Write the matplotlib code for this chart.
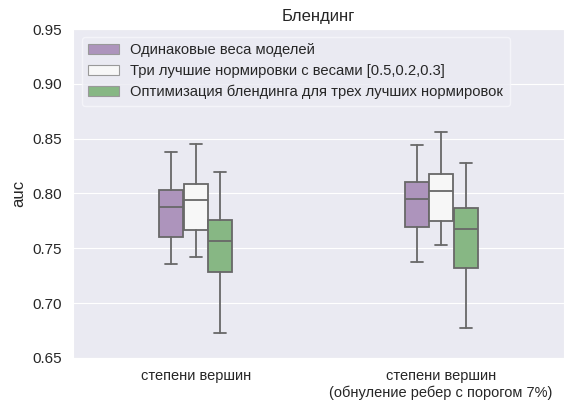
import matplotlib
matplotlib.use("Agg")
import matplotlib.pyplot as plt
import matplotlib.patches as mpatches
import seaborn as sns

sns.set_style("darkgrid")
plt.rcParams["font.family"] = ["Liberation Sans", "DejaVu Sans"]

groups = ["степени вершин", "степени вершин\n(обнуление ребер с порогом 7%)"]
series = ["Одинаковые веса моделей",
          "Три лучшие нормировки с весами [0.5,0.2,0.3]",
          "Оптимизация блендинга для трех лучших нормировок"]
colors = [sns.desaturate(c, 0.75) for c in ["#af8dc3", "#f7f7f7", "#7fbf7b"]]

# box stats per series, one value per group: whislo, q1, med, q3, whishi
whislo = [[0.736, 0.737], [0.742, 0.753], [0.673, 0.677]]
q1 = [[0.760, 0.769], [0.767, 0.775], [0.728, 0.732]]
med = [[0.788, 0.795], [0.794, 0.802], [0.757, 0.768]]
q3 = [[0.803, 0.810], [0.809, 0.818], [0.776, 0.787]]
whishi = [[0.838, 0.844], [0.845, 0.856], [0.820, 0.828]]

fig = plt.figure(figsize=(5.65, 4.03), dpi=100)
ax = fig.add_axes([0.129, 0.112, 0.869, 0.816])

line_color = "#686868"
box_w = 0.098
offsets = [-0.1, 0.0, 0.1]
for i in range(len(series)):
    stats = []
    for g in range(len(groups)):
        stats.append({"whislo": whislo[i][g], "q1": q1[i][g], "med": med[i][g],
                      "q3": q3[i][g], "whishi": whishi[i][g], "fliers": []})
    ax.bxp(stats, positions=[g + offsets[i] for g in range(len(groups))],
           widths=box_w, patch_artist=True, showfliers=False, manage_ticks=False,
           boxprops=dict(facecolor=colors[i], edgecolor=line_color, linewidth=1.3),
           medianprops=dict(color=line_color, linewidth=1.3),
           whiskerprops=dict(color=line_color, linewidth=1.3),
           capprops=dict(color=line_color, linewidth=1.3))

ax.set_xlim(-0.5, 1.5)
ax.set_ylim(0.65, 0.95)
ax.set_xticks(range(len(groups)))
ax.set_xticklabels(groups, fontsize=10.5)
ax.set_yticks([0.65, 0.70, 0.75, 0.80, 0.85, 0.90, 0.95])
ax.set_yticklabels([f"{v:.2f}" for v in ax.get_yticks()], fontsize=11)
ax.tick_params(axis="both", length=0, pad=8)
ax.grid(False, axis="x")
ax.set_ylabel("auc", fontsize=12)
ax.set_title("Блендинг", fontsize=12, pad=6)

handles = [mpatches.Patch(facecolor=c, edgecolor="#999999", linewidth=0.8, label=s)
           for c, s in zip(colors, series)]
leg = ax.legend(handles=handles, loc="upper left", fontsize=10.6, frameon=True,
                bbox_to_anchor=(0.003, 0.999), handlelength=2.05, handleheight=0.68,
                handletextpad=0.8, borderpad=0.45, labelspacing=0.45)
leg.get_frame().set_facecolor("#eaeaf2")
leg.get_frame().set_edgecolor("#f7f7fb")

fig.savefig("out.png", dpi=100)
